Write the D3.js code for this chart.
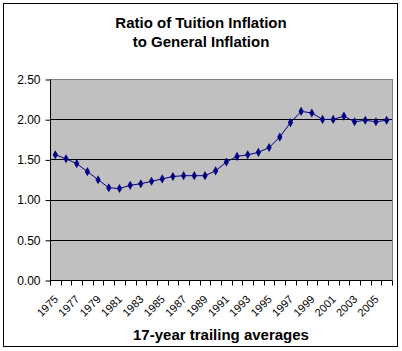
<!DOCTYPE html>
<html>
<head>
<meta charset="utf-8">
<script src="https://cdn.jsdelivr.net/npm/d3@7"></script>
<style>
body{margin:0;background:#fff;}
text{font-family:Arial,"Liberation Sans",sans-serif;}
</style>
</head>
<body>
<svg id="chart" width="402" height="351"></svg>
<script>
// ratio of tuition inflation to general inflation, 17-yr trailing avg
var years = ["1975","1976","1977","1978","1979","1980","1981","1982","1983","1984","1985","1986","1987","1988","1989","1990",
	"1991","1992","1993","1994","1995","1996","1997","1998","1999","2000","2001","2002","2003","2004","2005","2006"];
var ratio = [1.57,1.52,1.46,1.36,1.26,1.16,1.15,1.19,1.21,1.24,1.27,1.30,1.31,1.31,1.31,1.37,
	1.48,1.55,1.57,1.60,1.66,1.79,1.97,2.11,2.09,2.01,2.01,2.05,1.98,2.00,1.98,2.00];
var yTicks = [0,0.5,1,1.5,2,2.5];
var titleLines = ["Ratio of Tuition Inflation","to General Inflation"];
var xTitle = "17-year trailing averages";

var svg = d3.select("#chart");
var plotL = 50, plotR = 392, plotT = 80, plotB = 281;

svg.append("rect")
	.attr("x",3.5).attr("y",3.5)
	.attr("width",394).attr("height",343)
	.attr("fill","#fff").attr("stroke","#000").attr("stroke-width",1);

var x = d3.scaleBand().domain(years).range([plotL,plotR]);
var y = d3.scaleLinear().domain([0,2.5]).range([plotB,plotT]);

// plot area
svg.append("rect")
	.attr("x",plotL+0.5).attr("y",plotT-0.5)
	.attr("width",plotR-plotL).attr("height",plotB-plotT)
	.attr("fill","#c0c0c0").attr("stroke","#808080");

// gridlines
svg.selectAll(".grid").data(yTicks.filter(function(d){return d>0 && d<2.5;}))
	.enter().append("line")
	.attr("class","grid")
	.attr("x1",plotL).attr("x2",plotR)
	.attr("y1",function(d){return Math.round(y(d))-0.5;})
	.attr("y2",function(d){return Math.round(y(d))-0.5;})
	.attr("stroke","#000");

// y axis
var yAxis = d3.axisLeft(y).tickValues(yTicks).tickFormat(d3.format(".2f")).tickSize(5).tickPadding(5);
var gy = svg.append("g").attr("transform","translate("+(plotL+0.5)+",-0.5)").call(yAxis);
gy.select(".domain").remove();
gy.append("line").attr("x1",0).attr("x2",0).attr("y1",plotT).attr("y2",plotB).attr("stroke","#000");
gy.selectAll("text").attr("font-size","12px").attr("fill","#000").style("font-family","Arial,'Liberation Sans',sans-serif");
gy.selectAll("line").attr("stroke","#000");

// x axis: ticks at category boundaries
var gx = svg.append("g").attr("transform","translate(0,"+(plotB-0.5)+")");
gx.append("line").attr("x1",plotL).attr("x2",plotR).attr("stroke","#000");
var bounds = years.map(function(d){return x(d);}).concat([plotR]);
gx.selectAll(".tk").data(bounds).enter().append("line")
	.attr("x1",function(d){return Math.round(d)+0.5;})
	.attr("x2",function(d){return Math.round(d)+0.5;})
	.attr("y1",0).attr("y2",5).attr("stroke","#000");
gx.selectAll(".lbl").data(years.filter(function(d,i){return i%2===0;}))
	.enter().append("text")
	.attr("font-size","11px")
	.attr("text-anchor","end")
	.attr("transform",function(d){
		var cx = x(d)+x.bandwidth()/2;
		return "translate("+(cx-2)+",14) rotate(-45)";
	})
	.attr("dy","0.7em")
	.text(function(d){return d;});

// line + markers
var line = d3.line()
	.x(function(d,i){return x(years[i])+x.bandwidth()/2;})
	.y(function(d){return y(d);});
svg.append("path").datum(ratio)
	.attr("d",line).attr("fill","none").attr("stroke","#000080").attr("stroke-width",1);
svg.selectAll(".pt").data(ratio).enter().append("path")
	.attr("transform",function(d,i){return "translate("+(x(years[i])+x.bandwidth()/2)+","+y(d)+")";})
	.attr("d",d3.symbol(d3.symbolDiamond,24)())
	.attr("fill","#000080");

// titles
svg.selectAll(".title").data(titleLines).enter().append("text")
	.attr("x",201).attr("y",function(d,i){return 28+i*18.5;})
	.attr("text-anchor","middle")
	.attr("font-size","15px").attr("font-weight","bold")
	.text(function(d){return d;});

svg.append("text")
	.attr("x",221).attr("y",340)
	.attr("text-anchor","middle")
	.attr("font-size","15px").attr("font-weight","bold")
	.text(xTitle);
</script>
</body>
</html>
